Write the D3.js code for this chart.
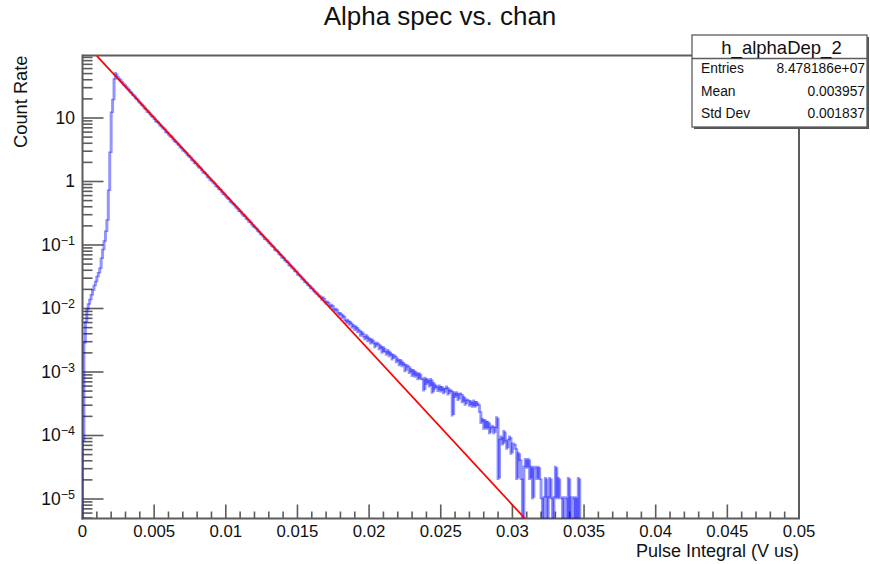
<!DOCTYPE html>
<html>
<head>
<meta charset="utf-8">
<script src="https://cdn.jsdelivr.net/npm/d3@7"></script>
<style>
  body { margin: 0; background: #fff; }
  svg { display: block; font-family: "Liberation Sans", Arial, Helvetica, sans-serif; }
</style>
</head>
<body>
<svg id="chart" width="870" height="564"></svg>
<script>
// ---- histogram h_alphaDep_2 : count rate per bin, bin width 0.0001 V us starting at 0 ----
const binWidth = 0.0001;

// bins 0-23 : leading edge up to the peak
const countsRise = [
  8e-5, 2.8e-3, 6.0e-3, 9.5e-3, 1.15e-2, 1.35e-2, 1.6e-2, 1.9e-2, 2.25e-2, 2.6e-2,
  3.1e-2, 3.55e-2, 4.2e-2, 6.0e-2, 8.3e-2, 0.112, 0.16, 0.24, 0.71, 2.8,
  12, 19, 40, 50
];

// bins 24-165 : exponential fall-off
const countsDecay = [
  45.5, 42.7, 40.7, 37.8, 36.0, 33.4, 32.2, 29.9, 28.5, 26.5,
  25.3, 23.4, 22.6, 20.9, 20.0, 18.5, 17.7, 16.4, 15.8, 14.5,
  14.0, 12.8, 12.5, 11.7, 10.9, 10.6, 9.80, 9.07, 8.84, 8.44,
  7.75, 7.47, 6.99, 6.74, 6.13, 5.97, 5.59, 5.23, 5.09, 4.72,
  4.37, 4.26, 3.99, 3.84, 3.53, 3.40, 3.12, 3.04, 2.90, 2.66,
  2.54, 2.45, 2.25, 2.17, 1.99, 1.96, 1.82, 1.70, 1.66, 1.54,
  1.42, 1.39, 1.32, 1.21, 1.17, 1.07, 1.05, 0.981, 0.945, 0.867,
  0.836, 0.775, 0.754, 0.700, 0.648, 0.638, 0.591, 0.553, 0.539, 0.489,
  0.477, 0.447, 0.431, 0.395, 0.381, 0.350, 0.344, 0.319, 0.298, 0.291,
  0.267, 0.257, 0.236, 0.232, 0.215, 0.199, 0.194, 0.185, 0.170, 0.164,
  0.152, 0.148, 0.137, 0.127, 0.124, 0.118, 0.109, 0.105, 0.0983, 0.0946,
  0.0859, 0.0837, 0.0807, 0.0733, 0.0707, 0.0649, 0.0639, 0.0592, 0.0554, 0.0545,
  0.0490, 0.0478, 0.0447, 0.0431, 0.0396, 0.0386, 0.0350, 0.0341, 0.0325, 0.0299,
  0.0288, 0.0265, 0.0260, 0.0241, 0.0233, 0.0214, 0.0210, 0.0195, 0.0187, 0.0175,
  0.0170, 0.0159
];

// bins 166-346 : high-energy tail (empty bins are 0)
const countsTail = [
  0.0155, 0.0140, 0.0146, 0.0130, 0.0121, 0.0127, 0.0115, 0.0106, 0.0112, 0.0100,
  0.00920, 0.00975, 0.00870, 0.00790, 0.00835, 0.00720, 0.00760, 0.00665, 0.00600, 0.00650,
  0.00565, 0.00600, 0.00505, 0.00540, 0.00465, 0.00510, 0.00430, 0.00455, 0.00380, 0.00420,
  0.00370, 0.00335, 0.00375, 0.00310, 0.00338, 0.00285, 0.00322, 0.00290, 0.00250, 0.00285,
  0.00280, 0.00232, 0.00255, 0.00205, 0.00240, 0.00215, 0.00190, 0.00218, 0.00180, 0.00198,
  0.00160, 0.00182, 0.00178, 0.00145, 0.00158, 0.00130, 0.00152, 0.00125, 0.00136, 0.00105,
  0.00127, 0.00124, 0.00098, 0.00110, 0.00088, 0.00106, 0.00086, 0.00096, 0.00078, 0.00094,
  0.00080, 0.00078, 0.00052, 0.00080, 0.00066, 0.00075, 0.00060, 0.00076, 0.00048, 0.00066,
  0.00056, 0.00059, 0.00051, 0.00060, 0.00050, 0.00057, 0.00047, 0.00053, 0.00058, 0.00045,
  0.00052, 0.00051, 0.00021, 0.00047, 0.00041, 0.00047, 0.00037, 0.00044, 0.00045, 0.00034,
  0.00040, 0.00031, 0.00035, 0.00036, 0.00030, 0.00034, 0.00029, 0.00035, 0.00029, 0.00033,
  0.00031, 0.00024, 0.00016, 0.00018, 0.00013, 0.00017, 0.00013, 0.00016, 0.00011, 0.00013,
  0.00014, 0.00011, 0.00013, 0.00019, 2.1e-5, 8.4e-5, 9.45e-5, 7.35e-5, 1.16e-4, 8.4e-5,
  6.3e-5, 8.4e-5, 9.45e-5, 5.25e-5, 7.35e-5, 7.35e-5, 6.3e-5, 2.1e-5, 5.25e-5, 4.2e-5,
  2.1e-5, 0, 3.15e-5, 4.2e-5, 3.15e-5, 4.2e-5, 2.1e-5, 3.15e-5, 1.05e-5, 3.15e-5,
  3.15e-5, 2.1e-5, 3.15e-5, 2.1e-5, 1.05e-5, 0, 1.05e-5, 2.1e-5, 0, 1.05e-5,
  2.1e-5, 1.05e-5, 0, 1.05e-5, 3.15e-5, 1.05e-5, 2.1e-5, 1.05e-5, 1.05e-5, 0,
  1.05e-5, 1.05e-5, 0, 2.1e-5, 0, 1.05e-5, 1.05e-5, 0, 1.05e-5, 0, 2.1e-5
];

// exponential fit: a straight segment on the log axis between two points
const fitX = [0.001, 0.031];
const fitY = [95.1, 4.6e-6];

// axes
const xDomain = [0, 0.05];
const yDomain = [4.93e-6, 96.4];
const xTickValues = [0, 0.005, 0.01, 0.015, 0.02, 0.025, 0.03, 0.035, 0.04, 0.045, 0.05];
const xTickLabels = ["0", "0.005", "0.01", "0.015", "0.02", "0.025", "0.03", "0.035", "0.04", "0.045", "0.05"];
const yTickValues = [1e-5, 1e-4, 1e-3, 1e-2, 1e-1, 1, 10];
const yTickBase = ["10", "10", "10", "10", "10", "1", "10"];
const yTickExp = ["\u22125", "\u22124", "\u22123", "\u22122", "\u22121", "", ""];

// statistics box
const statsTitle = "h_alphaDep_2";
const statsLabels = ["Entries", "Mean", "Std Dev"];
const statsValues = ["8.478186e+07", "0.003957", "0.001837"];

const chartTitle = "Alpha spec vs. chan";
const xTitle = "Pulse Integral (V us)";
const yTitle = "Count Rate";

// ---- layout ----
const frame = { left: 82.5, right: 799, top: 55.5, bottom: 518.5 };
const axisColor = "#5c5c5c";
const textColor = "#111";

const svg = d3.select("#chart");

const x = d3.scaleLinear().domain(xDomain).range([frame.left, frame.right]);
const y = d3.scaleLog().domain(yDomain).range([frame.bottom, frame.top]);

// title
svg.append("text")
  .attr("x", 440).attr("y", 25)
  .attr("text-anchor", "middle")
  .attr("font-size", 26)
  .attr("fill", textColor)
  .text(chartTitle);

// frame (top and right sides)
svg.append("path")
  .attr("d", `M${frame.left},${frame.top}H${frame.right}V${frame.bottom}`)
  .attr("fill", "none")
  .attr("stroke", axisColor)
  .attr("stroke-width", 2);

// x axis: ticks pointing up into the frame
const xAxis = svg.append("g").attr("class", "x-axis");
const xMinor = d3.range(0, 51).map(k => k * 0.001).filter((v, k) => k % 5 !== 0);
xAxis.selectAll("line.minor").data(xMinor).join("line")
  .attr("class", "minor")
  .attr("x1", d => x(d)).attr("x2", d => x(d))
  .attr("y1", frame.bottom).attr("y2", frame.bottom - 7)
  .attr("stroke", axisColor).attr("stroke-width", 1.6);
xAxis.selectAll("line.major").data(xTickValues).join("line")
  .attr("class", "major")
  .attr("x1", d => x(d)).attr("x2", d => x(d))
  .attr("y1", frame.bottom).attr("y2", frame.bottom - 14)
  .attr("stroke", axisColor).attr("stroke-width", 1.6);
xAxis.selectAll("text").data(xTickValues).join("text")
  .attr("x", d => x(d)).attr("y", 537)
  .attr("text-anchor", "middle")
  .attr("font-size", 16.8)
  .attr("fill", textColor)
  .text((d, i) => xTickLabels[i]);
xAxis.append("line")
  .attr("x1", frame.left - 1).attr("x2", frame.right + 1)
  .attr("y1", frame.bottom).attr("y2", frame.bottom)
  .attr("stroke", axisColor).attr("stroke-width", 2);

// y axis (log): ticks pointing right into the frame
const yAxis = svg.append("g").attr("class", "y-axis");
const yMinor = [];
for (let d = -6; d <= 1; d++) {
  for (let k = 2; k <= 9; k++) {
    const v = k * Math.pow(10, d);
    if (v > yDomain[0] && v < yDomain[1]) yMinor.push(v);
  }
}
yAxis.selectAll("line.minor").data(yMinor).join("line")
  .attr("class", "minor")
  .attr("x1", frame.left).attr("x2", frame.left + 10)
  .attr("y1", d => y(d)).attr("y2", d => y(d))
  .attr("stroke", axisColor).attr("stroke-width", 1.6);
yAxis.selectAll("line.major").data(yTickValues).join("line")
  .attr("class", "major")
  .attr("x1", frame.left).attr("x2", frame.left + 21)
  .attr("y1", d => y(d)).attr("y2", d => y(d))
  .attr("stroke", axisColor).attr("stroke-width", 1.6);
const yLabels = yAxis.selectAll("text").data(yTickValues).join("text")
  .attr("x", 75).attr("y", d => y(d) + 6)
  .attr("text-anchor", "end")
  .attr("font-size", 17.5)
  .attr("fill", textColor);
yLabels.append("tspan").text((d, i) => yTickBase[i]);
yLabels.filter((d, i) => yTickExp[i] !== "")
  .append("tspan")
  .attr("font-size", 12.5)
  .attr("dy", -6)
  .text(d => yTickExp[yTickValues.indexOf(d)]);
yAxis.append("line")
  .attr("x1", frame.left).attr("x2", frame.left)
  .attr("y1", frame.top - 1).attr("y2", frame.bottom + 1)
  .attr("stroke", axisColor).attr("stroke-width", 2);

// axis titles
svg.append("text")
  .attr("x", frame.right).attr("y", 557)
  .attr("text-anchor", "end")
  .attr("font-size", 18)
  .attr("fill", textColor)
  .text(xTitle);
svg.append("text")
  .attr("transform", `translate(27,${frame.top}) rotate(-90)`)
  .attr("text-anchor", "end")
  .attr("font-size", 18.3)
  .attr("fill", textColor)
  .text(yTitle);

// plot contents clipped to the frame
svg.append("clipPath").attr("id", "plot-clip")
  .append("rect")
  .attr("x", frame.left).attr("y", frame.top)
  .attr("width", frame.right - frame.left)
  .attr("height", frame.bottom - frame.top);
const plot = svg.append("g").attr("clip-path", "url(#plot-clip)");

// histogram outline, one step per bin so overlapping strokes darken
const counts = countsRise.concat(countsDecay, countsTail);
const floorVal = yDomain[0];
const clampV = v => (v > floorVal ? v : floorVal);
const steps = counts.map((v, i) => ({
  x0: i * binWidth,
  x1: (i + 1) * binWidth,
  prev: i === 0 ? floorVal : clampV(counts[i - 1]),
  cur: clampV(v)
}));
steps.push({ x0: counts.length * binWidth, x1: counts.length * binWidth,
             prev: clampV(counts[counts.length - 1]), cur: floorVal });
plot.append("g").attr("class", "hist")
  .selectAll("path").data(steps).join("path")
  .attr("d", s => `M${x(s.x0)},${y(s.prev)}V${y(s.cur)}H${x(s.x1)}`)
  .attr("fill", "none")
  .attr("stroke", "#0000ff")
  .attr("stroke-opacity", 0.42)
  .attr("stroke-width", 3);

// fit
const fitLine = d3.line().x(d => x(d[0])).y(d => y(d[1]));
plot.append("path")
  .attr("d", fitLine(fitX.map((v, i) => [v, fitY[i]])))
  .attr("fill", "none")
  .attr("stroke", "#ff0000")
  .attr("stroke-width", 1.7);

// statistics box
const box = { x: 692, y: 35, w: 175, h: 92 };
svg.append("rect")
  .attr("x", box.x + 2).attr("y", box.y + 2)
  .attr("width", box.w).attr("height", box.h)
  .attr("fill", "#555");
svg.append("rect")
  .attr("x", box.x).attr("y", box.y)
  .attr("width", box.w).attr("height", box.h)
  .attr("fill", "#fff")
  .attr("stroke", axisColor).attr("stroke-width", 1.3);
svg.append("line")
  .attr("x1", box.x).attr("x2", box.x + box.w)
  .attr("y1", 58.5).attr("y2", 58.5)
  .attr("stroke", axisColor).attr("stroke-width", 1.3);
svg.append("text")
  .attr("x", box.x + box.w / 2 + 2).attr("y", 53.5)
  .attr("text-anchor", "middle")
  .attr("font-size", 18.5)
  .attr("fill", textColor)
  .text(statsTitle);
const rowY = [73.3, 95.5, 117.5];
statsLabels.forEach((lab, i) => {
  svg.append("text")
    .attr("x", 701).attr("y", rowY[i])
    .attr("font-size", 13.8)
    .attr("fill", textColor)
    .text(lab);
  svg.append("text")
    .attr("x", 865).attr("y", rowY[i])
    .attr("text-anchor", "end")
    .attr("font-size", 13.8)
    .attr("fill", textColor)
    .text(statsValues[i]);
});
</script>
</body>
</html>
